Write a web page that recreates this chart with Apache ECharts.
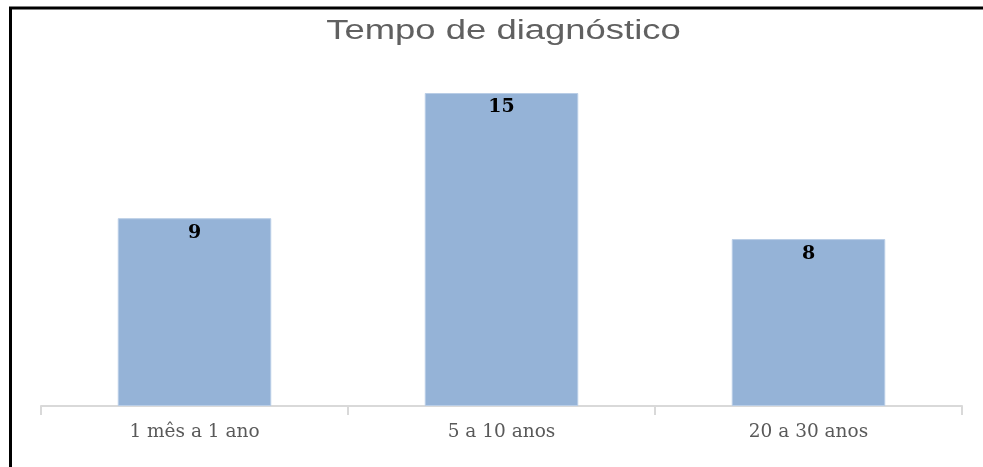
<!DOCTYPE html>
<html>
<head>
<meta charset="utf-8">
<script src="https://cdn.jsdelivr.net/npm/echarts@6/dist/echarts.min.js"></script>
<style>
  html, body { margin: 0; padding: 0; background: #fff; }
  #chart { width: 983px; height: 467px; }
</style>
</head>
<body>
<div id="chart"></div>
<script>
// Time since diagnosis, by range
const categories = ['1 mês a 1 ano', '5 a 10 anos', '20 a 30 anos'];
const counts = [9, 15, 8];
const chartTitle = 'Tempo de diagnóstico';

const chart = echarts.init(document.getElementById('chart'));
chart.setOption({
  animation: false,
  backgroundColor: '#ffffff',
  grid: { left: 41, right: 21, top: 93, bottom: 61 },
  xAxis: {
    type: 'category',
    data: categories,
    axisLine: { lineStyle: { color: '#d9d9d9', width: 2 } },
    axisTick: { show: true, length: 9, lineStyle: { color: '#d9d9d9', width: 2 } },
    axisLabel: {
      margin: 17,
      fontFamily: 'DejaVu Serif, Liberation Serif, serif',
      fontSize: 18.5,
      color: '#595959'
    }
  },
  yAxis: {
    type: 'value',
    min: 0,
    max: 15,
    show: false,
    splitLine: { show: false }
  },
  series: [{
    type: 'bar',
    data: counts,
    barWidth: '50%',
    itemStyle: { color: '#95b3d7', borderColor: '#b9cde6', borderWidth: 1 },
    label: {
      show: true,
      position: 'insideTop',
      distance: 5,
      fontFamily: 'DejaVu Serif, Liberation Serif, serif',
      fontWeight: 'bold',
      fontSize: 19,
      color: '#000000'
    }
  }],
  graphic: [
    // chart title, drawn slightly wide
    {
      type: 'text',
      x: 503.5,
      y: 32,
      scaleX: 1.35,
      style: {
        text: chartTitle,
        x: 0,
        y: 0,
        textAlign: 'center',
        textVerticalAlign: 'middle',
        fontFamily: 'Liberation Sans, Arial, sans-serif',
        fontSize: 27,
        fill: '#606060'
      }
    },
    // frame: top and left edges
    { type: 'line', shape: { x1: 9, y1: 8, x2: 983, y2: 8 }, style: { stroke: '#000', lineWidth: 3 } },
    { type: 'line', shape: { x1: 10.5, y1: 7, x2: 10.5, y2: 467 }, style: { stroke: '#000', lineWidth: 3 } }
  ]
});
</script>
</body>
</html>
